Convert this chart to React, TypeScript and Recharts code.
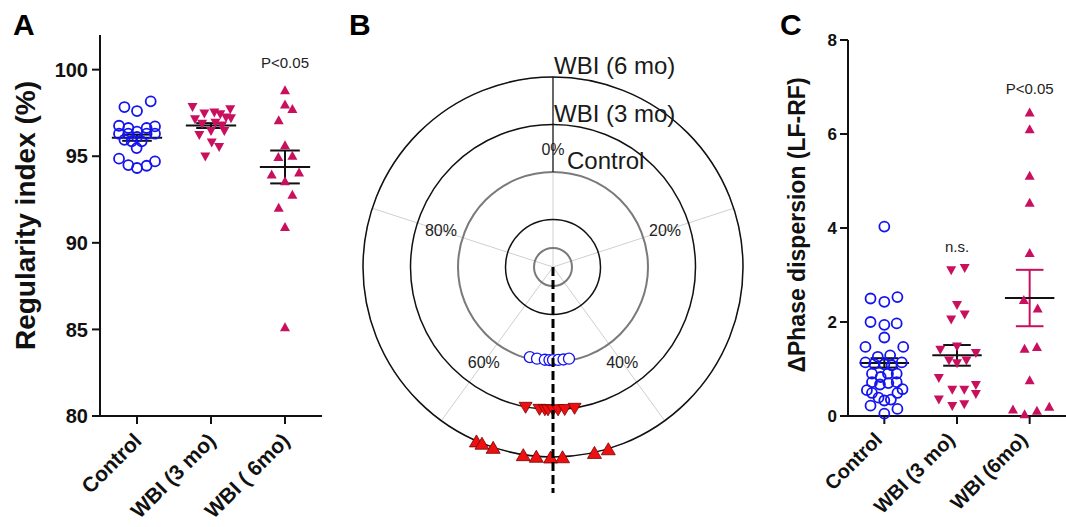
import React from 'react';
import {
  ScatterChart, Scatter, XAxis, YAxis, ReferenceLine, ReferenceDot,
  RadarChart, Radar, PolarGrid, PolarAngleAxis, PolarRadiusAxis,
} from 'recharts';

const FONT = '"Liberation Sans", Arial, Helvetica, sans-serif';
const BLUE = '#1414F0';
const CRIMSON = '#C8105E';
const RED = '#EE1010';

// ---------- shared categories ----------
const groupCentersX = [0.5, 1.5, 2.5];
const groupLabelsA = ['Control', 'WBI (3 mo)', 'WBI ( 6mo)'];
const groupLabelsC = ['Control', 'WBI (3 mo)', 'WBI (6mo)'];

// ---------- Panel A : Regularity index (%) ----------
const regTicks = [80, 85, 90, 95, 100];
const regControl = [97.84, 97.61, 98.17, 96.76, 96.63, 96.42, 96.63, 96.72, 96.3, 96.3, 96.11, 96.3, 96.3, 95.95, 95.86, 95.86, 95.47, 94.86, 94.49, 94.32, 94.45, 94.7];
const regControlJitter = [-0.17, 0, 0.185, -0.243, -0.117, 0, 0.13, 0.243, -0.243, -0.117, 0, 0.13, 0.243, -0.17, -0.072, 0.063, -0.005, -0.243, -0.117, 0, 0.13, 0.243];
const reg3mo = [97.82, 97.44, 97.5, 97.4, 97.69, 97.11, 97.21, 97.17, 96.2, 96.43, 96.43, 95.76, 95.5, 94.95, 96.85, 96.9, 96.75];
const reg3moJitter = [-0.25, -0.09, 0.045, 0.126, 0.26, -0.216, 0.203, 0.27, -0.158, 0, 0.18, 0.01, 0.11, -0.077, -0.12, 0.06, 0.15];
const reg6mo = [98.84, 98.02, 97.75, 97.11, 95.66, 94.99, 95.05, 93.97, 94.09, 93.58, 92.8, 92.06, 90.94, 85.16];
const reg6moJitter = [0, 0, 0.1, -0.085, 0, -0.09, 0.1, -0.18, 0.19, 0, 0.1, -0.085, 0, 0];
const regMean = [96.07, 96.77, 94.38];
const regSem = [0.18, 0.14, 0.95];

// ---------- Panel C : ΔPhase dispersion ----------
const phaseTicks = [0, 2, 4, 6, 8];
const phControl = [4.03, 2.5, 2.43, 2.53, 2.0, 1.94, 1.97, 1.67, 1.47, 1.47, 1.26, 1.29, 1.14, 1.14, 1.11, 1.1, 1.08, 0.9, 0.83, 0.9, 0.9, 0.72, 0.67, 0.7, 0.72, 0.55, 0.49, 0.39, 0.33, 0.35, 0.49, 0.57, 0.22, 0.15, 0.05];
const phControlJitter = [0, -0.19, 0, 0.18, -0.19, 0, 0.17, 0, -0.26, 0.26, -0.09, 0.08, -0.26, 0.24, -0.14, 0, 0.1, -0.17, -0.05, 0.05, 0.17, -0.17, -0.06, 0.055, 0.17, -0.24, -0.17, -0.08, 0, 0.09, 0.18, 0.25, -0.19, 0.18, 0];
const ph3mo = [3.09, 3.14, 2.35, 2.15, 2.04, 1.47, 1.4, 1.33, 1.17, 1.11, 1.17, 0.8, 0.55, 0.55, 0.65, 0.46, 0.34, 0.2, 0.24];
const ph3moJitter = [-0.08, 0.106, 0, 0.106, -0.08, 0, -0.23, 0.26, -0.11, 0, 0.13, -0.25, -0.065, 0.1, 0.26, 0.26, -0.25, -0.065, 0.1];
const ph6mo = [6.47, 6.11, 5.12, 4.55, 3.48, 2.48, 2.3, 1.44, 1.48, 0.77, 0.15, 0.05, 0.12, 0.21];
const ph6moJitter = [0, 0, 0, 0, 0, -0.08, 0.11, -0.07, 0.1, 0, -0.23, -0.07, 0.1, 0.27];
const phMean = [1.13, 1.29, 2.51];
const phSem = [0.1, 0.22, 0.6];

// ---------- Panel B : circular (polar) plot ----------
const pctTicks = [0, 20, 40, 60, 80];
const ringNames = ['Control', 'WBI (3 mo)', 'WBI (6 mo)'];
const ringLevels = [0.5, 0.75, 1.0];
const grayRings = [0.1, 0.5];
const blackRings = [0.25, 0.75, 1.0];
const circControlPct = [54.0, 52.75, 51.4, 50.6, 50, 49.1, 48.2, 47.25];
const circControlR = 0.49;
const circ3moPct = [53.06, 51.5, 50.9, 50.56, 50, 49.44, 48.7, 47.6];
const circ3moR = 0.755;
const circ6moPct = [56.6, 56.1, 55.1, 52.5, 51.4, 50.2, 49.2, 46.5, 45.3];
const circ6moR = 1.0;
const meanVectorPct = 50;
const meanVectorLen = 1.19;
const OUTER_PX = 190; // radius of the outer ring (value 1)
const CX_B = 213;
const CY_B = 267;
const ANGLE_LABEL_R = 0.62; // angle labels sit between the Control and 3 mo rings
const ringPx = (v: number) => v * OUTER_PX;

const toPoints = (vals: number[], jit: number[], c: number) => vals.map((v, i) => ({ x: c + jit[i], y: v }));

const isVal = (p: any) => {
  const v = p && p.value !== undefined ? p.value : p?.payload?.value;
  return v !== undefined && v !== null && !(typeof v === 'number' && Number.isNaN(v));
};

// ---------- shapes ----------
const openCircle = (r: number, color: string, sw: number, fill = 'none', needValue = false) => (p: any) => {
  const { cx, cy } = p;
  if (!Number.isFinite(cx) || !Number.isFinite(cy) || (needValue && !isVal(p))) return <g key={p.key} />;
  return <circle key={p.key} cx={cx} cy={cy} r={r} fill={fill} stroke={color} strokeWidth={sw} />;
};
const triangle = (w: number, h: number, fill: string, down: boolean, stroke = 'none', sw = 0, needValue = false) => (p: any) => {
  const { cx, cy } = p;
  if (!Number.isFinite(cx) || !Number.isFinite(cy) || (needValue && !isVal(p))) return <g key={p.key} />;
  const pts = down
    ? `${cx - w / 2},${cy - h / 2} ${cx + w / 2},${cy - h / 2} ${cx},${cy + h / 2}`
    : `${cx - w / 2},${cy + h / 2} ${cx + w / 2},${cy + h / 2} ${cx},${cy - h / 2}`;
  return <polygon key={p.key} points={pts} fill={fill} stroke={stroke} strokeWidth={sw} />;
};
// mean vector: dashed line from the polar centre to the (angle, length) point
const meanVectorShape = (p: any) => {
  const { cx, cy } = p;
  if (!Number.isFinite(cx) || !Number.isFinite(cy) || !isVal(p)) return <g key={p.key} />;
  const ox = Number.isFinite(p.payload?.cx) ? p.payload.cx : CX_B;
  const oy = Number.isFinite(p.payload?.cy) ? p.payload.cy : CY_B;
  return <line key={p.key} x1={ox} y1={oy} x2={cx} y2={cy} stroke="#000" strokeWidth={3} strokeDasharray="9 4" />;
};

const makeXTick = (labels: string[], fontSize: number, dx: number, dy: number) => (p: any) => {
  const { x, y, payload } = p;
  const idx = groupCentersX.indexOf(payload.value);
  const ax = x + dx;
  const ay = y + dy;
  return (
    <text x={ax} y={ay} transform={`rotate(-45 ${ax} ${ay})`} textAnchor="end" fontSize={fontSize}
      fontWeight="bold" fontFamily={FONT} fill="#111">{labels[idx]}</text>
  );
};

const meanSem = (means: number[], sems: number[], semColors: string[], meanHalf: number, capHalf: number) => {
  const out: any[] = [];
  means.forEach((m, i) => {
    const c = groupCentersX[i];
    const s = sems[i];
    const col = semColors[i];
    out.push(<ReferenceLine key={`v${i}`} segment={[{ x: c, y: m - s }, { x: c, y: m + s }]} stroke={col} strokeWidth={2} />);
    out.push(<ReferenceLine key={`t${i}`} segment={[{ x: c - capHalf, y: m + s }, { x: c + capHalf, y: m + s }]} stroke={col} strokeWidth={2} />);
    out.push(<ReferenceLine key={`b${i}`} segment={[{ x: c - capHalf, y: m - s }, { x: c + capHalf, y: m - s }]} stroke={col} strokeWidth={2} />);
    out.push(<ReferenceLine key={`m${i}`} segment={[{ x: c - meanHalf, y: m }, { x: c + meanHalf, y: m }]} stroke="#111" strokeWidth={2} />);
  });
  return out;
};

// angle labels: placed along the tick's angle, at a radius between the rings
const AngleTick = (p: any) => {
  const { payload } = p;
  const cx = Number.isFinite(p.cx) ? p.cx : CX_B;
  const cy = Number.isFinite(p.cy) ? p.cy : CY_B;
  const ang = (payload.coordinate * Math.PI) / 180;
  const r = ringPx(ANGLE_LABEL_R);
  const x = cx + r * Math.cos(-ang);
  const y = cy + r * Math.sin(-ang);
  return (
    <text x={x} y={y} textAnchor="middle" dominantBaseline="central" fontSize={16} fontFamily={FONT} fill="#222">
      {`${payload.value}%`}
    </text>
  );
};

const RingLabelTick = (p: any) => {
  const { x, y, payload } = p;
  const idx = ringLevels.indexOf(payload.value);
  if (idx < 0) return <g />;
  const isControl = idx === 0;
  return (
    <g>
      {isControl && (
        <line x1={x} y1={y} x2={x} y2={y - (ringPx(ringLevels[2]) - ringPx(ringLevels[0]))} stroke="#111" strokeWidth={1.2} />
      )}
      <text x={x + (isControl ? 14 : 1)} y={y - 3} textAnchor="start" fontSize={24} fontFamily={FONT} fill="#1a1a1a">
        {ringNames[idx]}
      </text>
    </g>
  );
};

const radarData = [
  ...circControlPct.map((p) => ({ pct: p, control: circControlR })),
  ...circ3moPct.map((p) => ({ pct: p, m3: circ3moR })),
  ...circ6moPct.map((p) => ({ pct: p, m6: circ6moR })),
  { pct: meanVectorPct, mv: meanVectorLen },
];

const axisLineStyle = { stroke: '#111', strokeWidth: 2 };

const PanelLetter = ({ ch, left }: { ch: string; left: number }) => (
  <div style={{ position: 'absolute', left, top: 10, fontFamily: FONT, fontWeight: 'bold', fontSize: 30, lineHeight: '30px', color: '#000' }}>{ch}</div>
);

export default function App() {
  return (
    <div style={{ position: 'absolute', left: 0, top: 0, width: 1066, height: 527, background: '#fff', overflow: 'hidden' }}>
      <PanelLetter ch="A" left={13} />
      <PanelLetter ch="B" left={349} />
      <PanelLetter ch="C" left={780} />

      {/* Panel A */}
      <div style={{ position: 'absolute', left: 0, top: 0 }}>
        <ScatterChart width={330} height={527} margin={{ top: 35, right: 8, bottom: 11, left: 0 }}>
          <XAxis type="number" dataKey="x" domain={[0, 3]} ticks={groupCentersX} interval={0} height={100}
            axisLine={axisLineStyle} tickLine={axisLineStyle} tickSize={8}
            tick={makeXTick(groupLabelsA, 21, 6, 16)} />
          <YAxis type="number" dataKey="y" domain={[80, 102]} ticks={regTicks} interval={0} width={100}
            axisLine={axisLineStyle} tickLine={axisLineStyle} tickSize={8} tickMargin={4}
            tick={{ fontSize: 20, fontWeight: 'bold', fill: '#111', fontFamily: FONT }}
            label={(lp: any) => {
              const vb = lp.viewBox || { x: 0, y: 35, width: 100, height: 381 };
              const lx = vb.x + 25;
              const ly = vb.y + vb.height / 2 - 10;
              return (
                <text x={lx} y={ly} transform={`rotate(-90 ${lx} ${ly})`} textAnchor="middle" dominantBaseline="central"
                  fontSize={28} fontWeight="bold" fontFamily={FONT} fill="#111">Regularity index (%)</text>
              );
            }} />
          <Scatter data={toPoints(regControl, regControlJitter, groupCentersX[0])} isAnimationActive={false} shape={openCircle(5, BLUE, 1.8)} />
          <Scatter data={toPoints(reg3mo, reg3moJitter, groupCentersX[1])} isAnimationActive={false} shape={triangle(10, 9, CRIMSON, true)} />
          <Scatter data={toPoints(reg6mo, reg6moJitter, groupCentersX[2])} isAnimationActive={false} shape={triangle(10, 9, CRIMSON, false)} />
          {meanSem(regMean, regSem, ['#111', '#111', '#111'], 0.34, 0.2)}
          <ReferenceDot x={2.5} y={100.4} r={0} fill="none" stroke="none"
            label={{ value: 'P<0.05', position: 'center', fontSize: 15, fill: '#222', fontFamily: FONT }} />
        </ScatterChart>
      </div>

      {/* Panel B */}
      <div style={{ position: 'absolute', left: 340, top: 0 }}>
        <RadarChart width={420} height={527} cx={CX_B} cy={CY_B} innerRadius={0} outerRadius={OUTER_PX}
          startAngle={90} endAngle={-270} data={radarData} margin={{ top: 0, right: 0, bottom: 0, left: 0 }}>
          <PolarGrid gridType="circle" polarRadius={[ringPx(1.0)]} radialLines stroke="#cfcfcf" strokeWidth={1} />
          <PolarGrid gridType="circle" polarRadius={grayRings.map(ringPx)} radialLines={false} stroke="#7a7a7a" strokeWidth={2} />
          <PolarGrid gridType="circle" polarRadius={blackRings.map(ringPx)} radialLines={false} stroke="#111" strokeWidth={1.5} />
          <PolarAngleAxis dataKey="pct" type="number" domain={[0, 100]} ticks={pctTicks}
            axisLine={false} tickLine={false} tick={AngleTick} />
          <PolarRadiusAxis angle={90} type="number" domain={[0, 1]} allowDataOverflow ticks={ringLevels}
            axisLine={false} tickLine={false} tick={RingLabelTick} orientation="right" />
          <Radar dataKey="control" stroke="none" fill="none" fillOpacity={0} isAnimationActive={false}
            dot={openCircle(5.5, BLUE, 1.3, '#fff', true)} />
          <Radar dataKey="m3" stroke="none" fill="none" fillOpacity={0} isAnimationActive={false}
            dot={triangle(13, 11, RED, true, '#700', 0.8, true)} />
          <Radar dataKey="m6" stroke="none" fill="none" fillOpacity={0} isAnimationActive={false}
            dot={triangle(14, 12, RED, false, '#700', 0.8, true)} />
          <Radar dataKey="mv" stroke="none" fill="none" fillOpacity={0} isAnimationActive={false}
            dot={meanVectorShape} />
        </RadarChart>
      </div>

      {/* Panel C */}
      <div style={{ position: 'absolute', left: 740, top: 0 }}>
        <ScatterChart width={326} height={527} margin={{ top: 40, right: 0, bottom: 11, left: 0 }}>
          <XAxis type="number" dataKey="x" domain={[0, 3]} ticks={groupCentersX} interval={0} height={100}
            axisLine={axisLineStyle} tickLine={axisLineStyle} tickSize={8}
            tick={makeXTick(groupLabelsC, 20, -1, 15)} />
          <YAxis type="number" dataKey="y" domain={[0, 8]} ticks={phaseTicks} interval={0} width={108}
            axisLine={axisLineStyle} tickLine={axisLineStyle} tickSize={8} tickMargin={3}
            tick={{ fontSize: 17, fontWeight: 'bold', fill: '#111', fontFamily: FONT }}
            label={(lp: any) => {
              const vb = lp.viewBox || { x: 0, y: 40, width: 108, height: 376 };
              const lx = vb.x + 57;
              const ly = vb.y + vb.height / 2 - 3;
              return (
                <text x={lx} y={ly} transform={`rotate(-90 ${lx} ${ly})`} textAnchor="middle" dominantBaseline="central"
                  fontSize={23} fontWeight="bold" fontFamily={FONT} fill="#111">ΔPhase dispersion (LF-RF)</text>
              );
            }} />
          <Scatter data={toPoints(phControl, phControlJitter, groupCentersX[0])} isAnimationActive={false} shape={openCircle(5, BLUE, 1.8)} />
          <Scatter data={toPoints(ph3mo, ph3moJitter, groupCentersX[1])} isAnimationActive={false} shape={triangle(10, 9, CRIMSON, true)} />
          <Scatter data={toPoints(ph6mo, ph6moJitter, groupCentersX[2])} isAnimationActive={false} shape={triangle(10, 9, CRIMSON, false)} />
          {meanSem(phMean, phSem, ['#111', '#111', CRIMSON], 0.34, 0.19)}
          <ReferenceDot x={1.5} y={3.61} r={0} fill="none" stroke="none"
            label={{ value: 'n.s.', position: 'center', fontSize: 15, fill: '#222', fontFamily: FONT }} />
          <ReferenceDot x={2.5} y={6.97} r={0} fill="none" stroke="none"
            label={{ value: 'P<0.05', position: 'center', fontSize: 15, fill: '#222', fontFamily: FONT }} />
        </ScatterChart>
      </div>
    </div>
  );
}
